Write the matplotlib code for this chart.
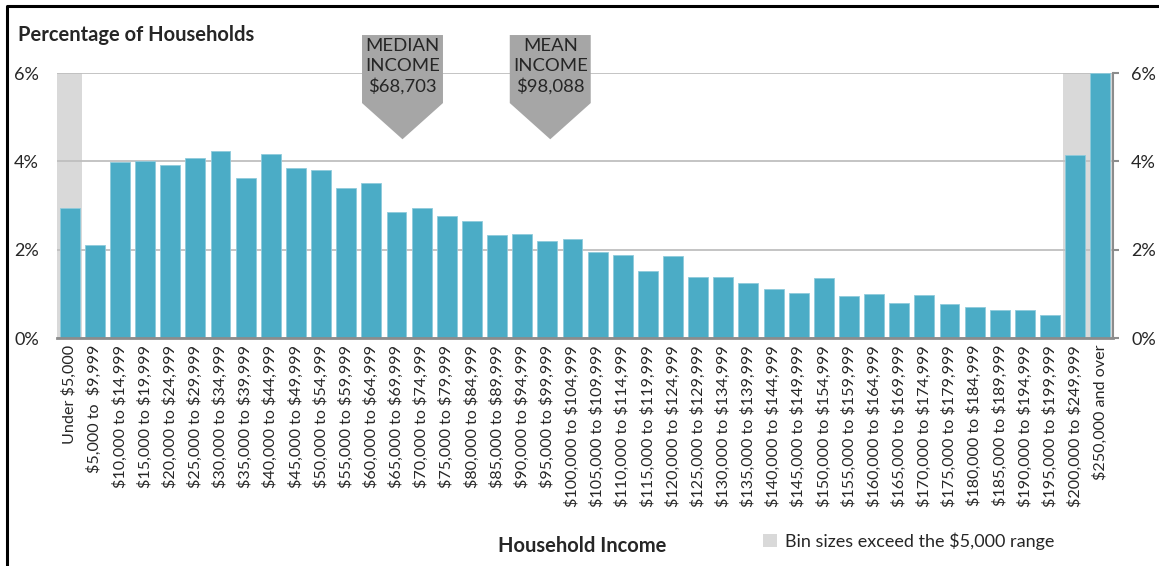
import matplotlib
matplotlib.use("Agg")
import matplotlib.pyplot as plt
from matplotlib.patches import Polygon, Patch
from matplotlib.lines import Line2D

# Household income distribution (percent of households)
income_bins = [
    "Under $5,000", "$5,000 to  $9,999", "$10,000 to $14,999", "$15,000 to $19,999",
    "$20,000 to $24,999", "$25,000 to $29,999", "$30,000 to $34,999", "$35,000 to $39,999",
    "$40,000 to $44,999", "$45,000 to $49,999", "$50,000 to $54,999", "$55,000 to $59,999",
    "$60,000 to $64,999", "$65,000 to $69,999", "$70,000 to $74,999", "$75,000 to $79,999",
    "$80,000 to $84,999", "$85,000 to $89,999", "$90,000 to $94,999", "$95,000 to $99,999",
    "$100,000 to $104,999", "$105,000 to $109,999", "$110,000 to $114,999", "$115,000 to $119,999",
    "$120,000 to $124,999", "$125,000 to $129,999", "$130,000 to $134,999", "$135,000 to $139,999",
    "$140,000 to $144,999", "$145,000 to $149,999", "$150,000 to $154,999", "$155,000 to $159,999",
    "$160,000 to $164,999", "$165,000 to $169,999", "$170,000 to $174,999", "$175,000 to $179,999",
    "$180,000 to $184,999", "$185,000 to $189,999", "$190,000 to $194,999", "$195,000 to $199,999",
    "$200,000 to $249,999", "$250,000 and over",
]
pct_households = [
    2.94, 2.10, 3.98, 4.00, 3.92, 4.08, 4.23, 3.62, 4.17, 3.85, 3.80, 3.40,
    3.51, 2.85, 2.94, 2.76, 2.65, 2.33, 2.35, 2.20, 2.24, 1.95, 1.88, 1.52,
    1.86, 1.38, 1.38, 1.25, 1.11, 1.02, 1.36, 0.95, 1.00, 0.79, 0.97, 0.77,
    0.70, 0.63, 0.63, 0.52, 4.14, 6.00,
]
# bins wider than $5,000
wide_bins = ["Under $5,000", "$200,000 to $249,999", "$250,000 and over"]

median_income = 68703
mean_income = 98088
callout_values = [median_income, mean_income]
callout_names = ["MEDIAN", "MEAN"]

bar_color = "#4BACC6"
band_color = "#D9D9D9"
arrow_color = "#A6A6A6"
text_color = "#262626"

plt.rcParams["font.family"] = ["Lato", "DejaVu Sans"]
plt.rcParams["text.parse_math"] = False

fig = plt.figure(figsize=(11.59, 5.66), dpi=100)
ax = fig.add_axes([0.0492, 0.4028, 0.9111, 0.4682])

x = list(range(len(income_bins)))
ymax = 6

# grey background bands for the wide bins
band_x = [income_bins.index(b) for b in wide_bins]
ax.bar(band_x, [ymax] * len(band_x), width=1.0, color=band_color, zorder=0.2)

ax.bar(x, pct_households, width=0.79, color=bar_color, edgecolor="#8FCBDC",
       linewidth=0.6, zorder=2)

ax.set_xlim(-0.5, len(income_bins) - 0.5)
ax.set_ylim(0, ymax)
ax.set_yticks([0, 2, 4, 6])
ax.set_yticklabels(["0%", "2%", "4%", "6%"])
ax.set_xticks(x)
ax.set_xticklabels(income_bins, rotation=90, fontsize=11.6, color=text_color)

ax.yaxis.grid(True, color="#BFBFBF", linewidth=1.3)
ax.set_axisbelow(True)

for s in ["top", "left"]:
    ax.spines[s].set_visible(False)
ax.spines["bottom"].set_color("#8C8C8C")
ax.spines["bottom"].set_linewidth(2)
ax.spines["right"].set_color("#8C8C8C")
ax.spines["right"].set_linewidth(1.5)

ax.tick_params(axis="x", length=0, pad=5)
ax.tick_params(axis="y", left=False, right=True, labelleft=True, labelright=True,
               length=4, width=1.5, color="#8C8C8C", labelsize=13,
               labelcolor=text_color, pad=9)

# callout arrows above the plot, placed on the $5,000 bin scale
half_w = 1.61
for val, name in zip(callout_values, callout_names):
    cx = val / 5000 - 0.5
    pts = [(cx - half_w, 6.86), (cx + half_w, 6.86), (cx + half_w, 5.32),
           (cx, 4.5), (cx - half_w, 5.32)]
    ax.add_patch(Polygon(pts, closed=True, facecolor=arrow_color, edgecolor="none",
                         clip_on=False, zorder=5))
    ax.text(cx, 6.8, f"{name}\nINCOME\n${val:,}", ha="center", va="top",
            fontsize=13.3, color=text_color, linespacing=1.3, zorder=6,
            clip_on=False)

fig.text(18 / 1159, 1 - 35 / 566, "Percentage of Households", fontsize=14.5,
         fontweight="bold", color=text_color, va="center", ha="left")
fig.text(582 / 1159, 1 - 546 / 566, "Household Income", fontsize=14.5,
         fontweight="bold", color=text_color, va="center", ha="center")

fig.legend(handles=[Patch(facecolor=band_color, edgecolor="none",
                          label="Bin sizes exceed the $5,000 range")],
           loc="center left", bbox_to_anchor=(756 / 1159, 1 - 541 / 566),
           frameon=False, fontsize=13, handlelength=0.75, handleheight=0.75,
           handletextpad=0.45, borderaxespad=0, labelcolor=text_color)

# black frame at left and top of the figure
fig.add_artist(Line2D([7 / 1159, 7 / 1159, 1], [0, 1 - 6 / 566, 1 - 6 / 566],
                      color="black", linewidth=2.2, transform=fig.transFigure))

fig.savefig("out.png", dpi=100)
